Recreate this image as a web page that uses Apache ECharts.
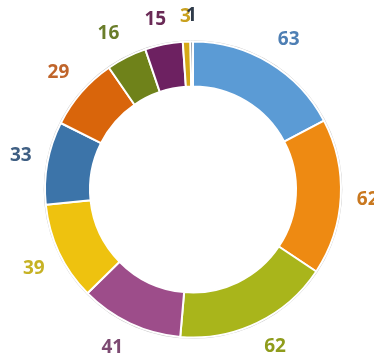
<!DOCTYPE html>
<html>
<head>
<meta charset="utf-8">
<script src="https://cdn.jsdelivr.net/npm/echarts@6/dist/echarts.min.js"></script>
<style>
  html, body { margin: 0; padding: 0; background: #ffffff; }
  #chart { width: 374px; height: 361px; }
</style>
</head>
<body>
<div id="chart"></div>
<script>
// Slice values, clockwise from 12 o'clock
const values = [63, 62, 62, 41, 39, 33, 29, 16, 15, 3, 1];
const sliceColors = ['#5b9bd5', '#ee8a12', '#a9b51b', '#9d4d8a', '#eec20f', '#3c74a9',
                     '#d9650b', '#6f821a', '#6d2161', '#d6a916', '#3b4e66'];
const labelColors = ['#4e7fb4', '#c9781f', '#8f9c1c', '#7d4a72', '#c6b224', '#3f5f83',
                     '#c0652b', '#6a7d2a', '#6a2a56', '#c9a11f', '#2f3a49'];

// Ring geometry (pixels)
const CX = 193, CY = 189.5, R_OUT = 148, R_IN = 103;
const LABEL_GAP = 16;

const total = values.reduce((a, b) => a + b, 0);
const midAngles = [];
let acc = 0;
values.forEach(v => { midAngles.push((acc + v / 2) / total * 2 * Math.PI); acc += v; });

// Place each value label just outside its slice, with the label box pushed
// away from the ring so its nearest corner sits on the anchor point.
function labelPlacement(i, w, h) {
  const a = midAngles[i], s = Math.sin(a), c = Math.cos(a);
  const r = R_OUT + LABEL_GAP;
  const ax = CX + r * s, ay = CY - r * c;
  const k = 2.5;
  const fx = Math.max(-1, Math.min(1, s * k));
  const fy = Math.max(-1, Math.min(1, -c * k));
  return { x: ax + fx * w / 2, y: ay + fy * h / 2 };
}

const chart = echarts.init(document.getElementById('chart'));
chart.setOption({
  animation: false,
  backgroundColor: '#ffffff',
  series: [
    {
      // thin grey outline around the ring
      type: 'pie',
      silent: true,
      center: [CX, CY],
      radius: [R_OUT, R_OUT + 1.3],
      startAngle: 90,
      label: { show: false },
      labelLine: { show: false },
      itemStyle: { color: '#c4c4c4' },
      data: [{ value: 1 }],
      z: 1
    },
    {
      type: 'pie',
      center: [CX, CY],
      radius: [R_IN, R_OUT],
      startAngle: 90,
      clockwise: true,
      avoidLabelOverlap: false,
      itemStyle: { borderColor: '#ffffff', borderWidth: 2 },
      label: {
        show: true,
        position: 'outside',
        formatter: p => String(p.value),
        fontFamily: 'Open Sans',
        fontWeight: 'bold',
        fontSize: 19
      },
      labelLine: { show: false },
      labelLayout: params => {
        const i = params.dataIndex;
        const w = params.labelRect.width;
        const pos = labelPlacement(i, w, 19);
        return { x: pos.x, y: pos.y, align: 'center', verticalAlign: 'middle' };
      },
      data: values.map((v, i) => ({
        value: v,
        itemStyle: { color: sliceColors[i] },
        label: { color: labelColors[i] }
      })),
      z: 2
    }
  ]
});
</script>
</body>
</html>
